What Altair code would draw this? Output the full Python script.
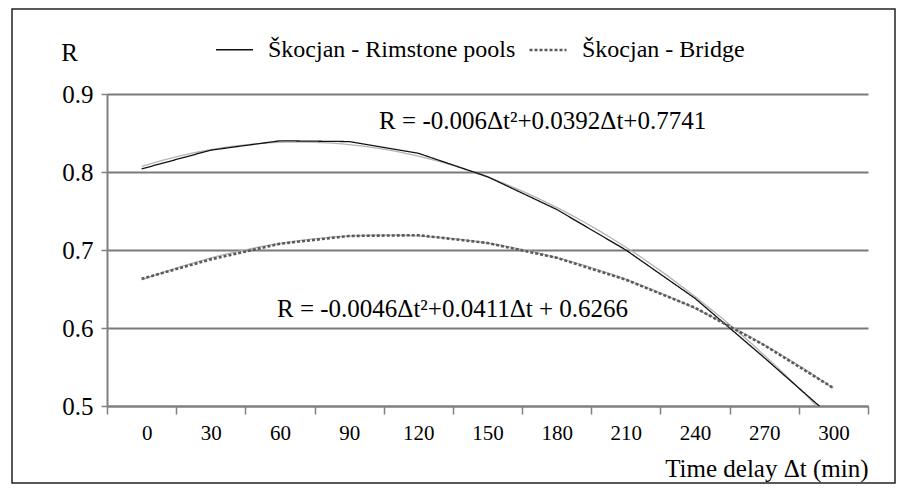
import altair as alt
import pandas as pd

# ---- data ----
delays = [0, 30, 60, 90, 120, 150, 180, 210, 240, 270, 300]
rimstone = [0.804, 0.828, 0.840, 0.839, 0.824, 0.794, 0.752, 0.700, 0.638, 0.562, 0.484]
bridge = [0.663, 0.688, 0.708, 0.718, 0.719, 0.709, 0.690, 0.662, 0.626, 0.578, 0.523]
series_names = ["Škocjan - Rimstone pools", "Škocjan - Bridge"]
y_ticks = [0.5, 0.6, 0.7, 0.8, 0.9]
x_bounds = [-15, 15, 45, 75, 105, 135, 165, 195, 225, 255, 285, 315]

eq_text = ["R = -0.006Δt²+0.0392Δt+0.7741", "R = -0.0046Δt²+0.0411Δt + 0.6266"]
eq_x = [103, 58.7]
eq_y = [0.8655, 0.6245]

FONT = "Liberation Serif, Times New Roman, serif"
W, H = 761, 312

df = pd.DataFrame(
    {
        "delay": delays * 2,
        "R": rimstone + bridge,
        "series": [series_names[0]] * len(delays) + [series_names[1]] * len(delays),
    }
)
ann = pd.DataFrame({"text": eq_text, "x": eq_x, "y": eq_y})

xscale = alt.Scale(domain=[-15, 315], nice=False, zero=False)
yscale = alt.Scale(domain=[0.5, 0.9], nice=False, zero=False)

xaxis = alt.Axis(
    values=x_bounds,
    labelExpr="datum.value < 300 ? format(datum.value + 15, 'd') : ''",
    labelOffset=W / 22,
    grid=False,
    tickSize=8,
    tickWidth=1.5,
    tickColor="#808080",
    domainColor="#808080",
    domainWidth=2,
    labelFont=FONT,
    labelFontSize=21,
    labelColor="#000",
    labelPadding=8,
    title="Time delay Δt (min)",
    titleFont=FONT,
    titleFontSize=25,
    titleFontWeight="normal",
    titleColor="#000",
    titleAnchor="end",
    titleAlign="right",
    titleBaseline="middle",
    titleX=W,
    titleY=62,
)
yaxis = alt.Axis(
    values=y_ticks,
    format=".1f",
    grid=True,
    gridColor="#7a7a7a",
    gridWidth=2,
    tickSize=6,
    tickWidth=1.5,
    tickColor="#808080",
    domainColor="#808080",
    domainWidth=2,
    labelFont=FONT,
    labelFontSize=25,
    labelColor="#000",
    labelPadding=8,
    title="R",
    titleFont=FONT,
    titleFontSize=25,
    titleFontWeight="normal",
    titleColor="#000",
    titleAngle=0,
    titleAlign="center",
    titleBaseline="middle",
    titleX=-38,
    titleY=-42,
)

base = alt.Chart(df)

trend = (
    base.transform_regression("delay", "R", groupby=["series"], method="poly", order=2)
    .mark_line(color="#b4b4b4", strokeWidth=1.3, clip=True)
    .encode(
        x=alt.X("delay:Q", scale=xscale, axis=xaxis),
        y=alt.Y("R:Q", scale=yscale, axis=yaxis),
        detail="series:N",
    )
)

legend = alt.Legend(
    title=None,
    orient="none",
    legendX=108,
    legendY=-64,
    direction="horizontal",
    symbolType="stroke",
    symbolSize=1369,
    labelFont=FONT,
    labelFontSize=24,
    labelColor="#000",
    labelOffset=14,
    labelLimit=400,
    columnPadding=8,
    padding=0,
)

lines = base.mark_line(clip=True).encode(
    x=alt.X("delay:Q", scale=xscale, axis=xaxis),
    y=alt.Y("R:Q", scale=yscale, axis=yaxis),
    color=alt.Color(
        "series:N",
        scale=alt.Scale(domain=series_names, range=["#111111", "#5a5a5a"]),
        legend=legend,
        sort=series_names,
    ),
    strokeDash=alt.StrokeDash(
        "series:N",
        scale=alt.Scale(domain=series_names, range=[[1, 0], [3, 2]]),
        legend=legend,
        sort=series_names,
    ),
    strokeWidth=alt.StrokeWidth(
        "series:N",
        scale=alt.Scale(domain=series_names, range=[1.3, 2.6]),
        legend=legend,
        sort=series_names,
    ),
)

eqs = (
    alt.Chart(ann)
    .mark_text(font=FONT, fontSize=25, align="left", baseline="middle", color="#000")
    .encode(
        x=alt.X("x:Q", scale=xscale, axis=xaxis),
        y=alt.Y("y:Q", scale=yscale, axis=yaxis),
        text="text:N",
    )
)

frame = (
    alt.Chart(alt.Data(values=[{"a": 1}]))
    .mark_rect(fillOpacity=0, stroke="#222222", strokeWidth=1.5)
    .encode(
        x=alt.value(-95),
        x2=alt.value(W + 27),
        y=alt.value(-85),
        y2=alt.value(H + 77),
    )
)

chart = (
    alt.layer(frame, trend, lines, eqs)
    .properties(
        width=W,
        height=H,
        autosize=alt.AutoSizeParams(type="none"),
        padding={"left": 99, "top": 86, "right": 29, "bottom": 78},
    )
    .configure(background="#ffffff", font=FONT)
    .configure_view(stroke=None)
    .configure_axis(labelFont=FONT, titleFont=FONT)
    .configure_legend(labelFont=FONT, titleFont=FONT)
    .configure_text(font=FONT)
)

chart.save("out.html", embed_options={"renderer": "svg", "actions": False})
